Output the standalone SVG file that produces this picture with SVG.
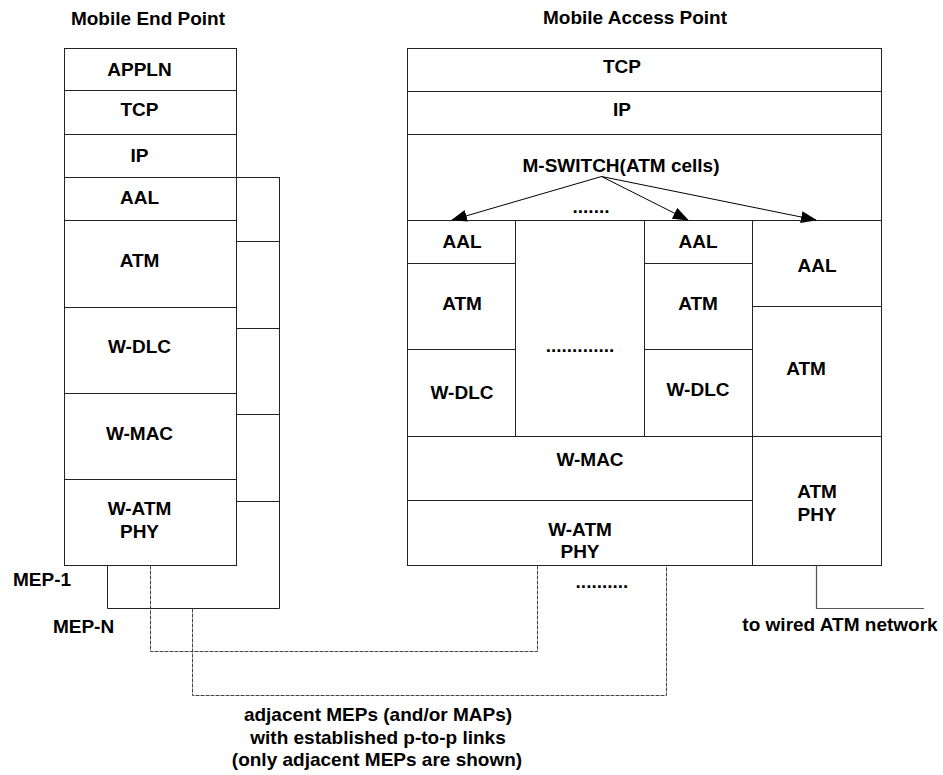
<svg xmlns="http://www.w3.org/2000/svg" width="943" height="775" viewBox="0 0 943 775">
<style>
  text { font-family: "Liberation Sans", Arial, sans-serif; font-weight: bold; font-size: 19px; fill: #000; text-anchor: middle; }
  .cell { fill: #fff; stroke: #222; stroke-width: 1; }
  .ln { fill: none; stroke: #222; stroke-width: 1; }
  .gl { fill: none; stroke: #555; stroke-width: 1.2; }
  .dl { fill: none; stroke: #444; stroke-width: 1; stroke-dasharray: 4 1; }
  .arr { fill: none; stroke: #000; stroke-width: 1; marker-end: url(#ah); }
</style>
<defs>
  <marker id="ah" markerWidth="16" markerHeight="12" refX="15" refY="6" orient="auto" markerUnits="userSpaceOnUse">
    <path d="M0,0 L16,6 L0,12 Z" fill="#000"/>
  </marker>
</defs>
<rect width="943" height="775" fill="#fff"/>

<text x="148" y="25">Mobile End Point</text>
<text x="635" y="24">Mobile Access Point</text>

<g id="mep-stack">
  <g id="mep-appln"><rect class="cell" x="64.5" y="48.5" width="172" height="42"/><text x="139.5" y="76">APPLN</text></g>
  <g id="mep-tcp"><rect class="cell" x="64.5" y="90.5" width="172" height="44"/><text x="139.5" y="116">TCP</text></g>
  <g id="mep-ip"><rect class="cell" x="64.5" y="134.5" width="172" height="43"/><text x="139.5" y="162">IP</text></g>
  <g id="mep-aal"><rect class="cell" x="64.5" y="177.5" width="172" height="43"/><text x="139.5" y="204">AAL</text></g>
  <g id="mep-atm"><rect class="cell" x="64.5" y="220.5" width="172" height="87"/><text x="139.5" y="267">ATM</text></g>
  <g id="mep-wdlc"><rect class="cell" x="64.5" y="307.5" width="172" height="86"/><text x="139.5" y="353">W-DLC</text></g>
  <g id="mep-wmac"><rect class="cell" x="64.5" y="393.5" width="172" height="86"/><text x="139.5" y="440">W-MAC</text></g>
  <g id="mep-phy"><rect class="cell" x="64.5" y="479.5" width="172" height="86"/><text x="139.5" y="515">W-ATM</text><text x="139.5" y="538">PHY</text></g>
</g>

<g id="mep-side">
  <rect class="cell" x="236.5" y="177.5" width="43" height="64"/>
  <rect class="cell" x="236.5" y="241.5" width="43" height="87"/>
  <rect class="cell" x="236.5" y="328.5" width="43" height="86"/>
  <rect class="cell" x="236.5" y="414.5" width="43" height="87"/>
</g>

<g id="map-stack">
  <g id="map-tcp"><rect class="cell" x="407.5" y="48.5" width="474" height="43"/><text x="622" y="73">TCP</text></g>
  <g id="map-ip"><rect class="cell" x="407.5" y="91.5" width="474" height="43"/><text x="622" y="116">IP</text></g>
  <g id="map-mswitch"><rect class="cell" x="407.5" y="134.5" width="474" height="86"/><text x="621" y="172">M-SWITCH(ATM cells)</text><text x="591" y="213">.......</text></g>
  <g id="map-aal1"><rect class="cell" x="407.5" y="220.5" width="108" height="43"/><text x="462" y="248">AAL</text></g>
  <g id="map-atm1"><rect class="cell" x="407.5" y="263.5" width="108" height="86"/><text x="462" y="310">ATM</text></g>
  <g id="map-wdlc1"><rect class="cell" x="407.5" y="349.5" width="108" height="87"/><text x="462" y="399">W-DLC</text></g>
  <g id="map-more"><rect class="cell" x="515.5" y="220.5" width="129" height="216"/><text x="580" y="352">.............</text></g>
  <g id="map-aal2"><rect class="cell" x="644.5" y="220.5" width="108" height="43"/><text x="698" y="248">AAL</text></g>
  <g id="map-atm2"><rect class="cell" x="644.5" y="263.5" width="108" height="86"/><text x="698" y="310">ATM</text></g>
  <g id="map-wdlc2"><rect class="cell" x="644.5" y="349.5" width="108" height="87"/><text x="698" y="396">W-DLC</text></g>
  <g id="map-aal3"><rect class="cell" x="752.5" y="220.5" width="129" height="86"/><text x="817" y="272">AAL</text></g>
  <g id="map-atm3"><rect class="cell" x="752.5" y="306.5" width="129" height="130"/><text x="806" y="375">ATM</text></g>
  <g id="map-wmac"><rect class="cell" x="407.5" y="436.5" width="345" height="64"/><text x="590" y="466">W-MAC</text></g>
  <g id="map-wphy"><rect class="cell" x="407.5" y="500.5" width="345" height="65"/><text x="580" y="536">W-ATM</text><text x="580" y="558">PHY</text></g>
  <g id="map-atmphy"><rect class="cell" x="752.5" y="436.5" width="129" height="129"/><text x="817" y="498">ATM</text><text x="817" y="521">PHY</text></g>
</g>

<g id="connectors">
  <path class="arr" d="M601.5,176.5 L452,220"/>
  <path class="arr" d="M601.5,176.5 L688,220"/>
  <path class="arr" d="M601.5,176.5 L816,220"/>
  <path class="ln" d="M107.5,565.5 V608.5 H279.5 V501.5"/>
  <path class="dl" d="M150.5,565.5 V651.5 H537.5 V565.5"/>
  <path class="dl" d="M192.5,608.5 V695.5 H666.5 V565.5"/>
  <path class="gl" d="M816.5,565.5 V608.5 H924"/>
</g>

<text x="42" y="586">MEP-1</text>
<text x="83.5" y="633">MEP-N</text>
<text x="602" y="588">..........</text>
<text x="840" y="631">to wired ATM network</text>
<text x="378" y="721">adjacent MEPs (and/or MAPs)</text>
<text x="378" y="744">with established p-to-p links</text>
<text x="377" y="766">(only adjacent MEPs are shown)</text>
</svg>
